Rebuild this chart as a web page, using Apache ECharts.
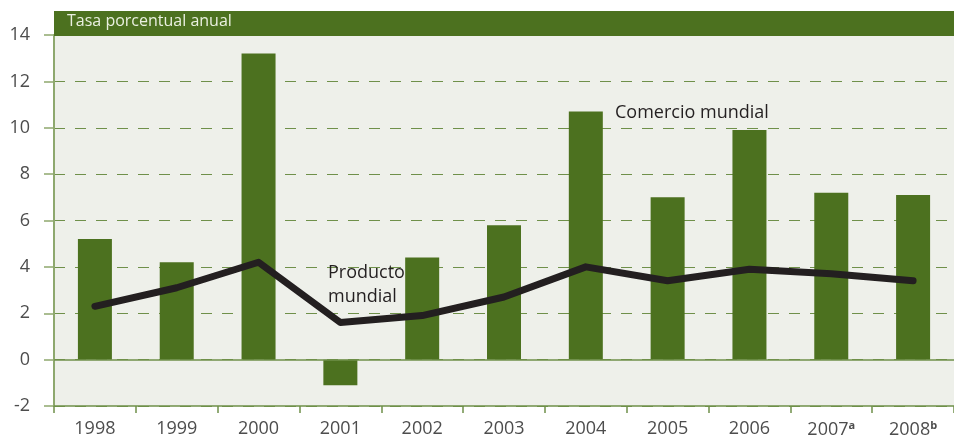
<!DOCTYPE html>
<html>
<head>
<meta charset="utf-8">
<script src="https://cdn.jsdelivr.net/npm/echarts@6/dist/echarts.min.js"></script>
<style>
  html, body { margin: 0; padding: 0; background: #ffffff; }
  #chart { width: 954px; height: 439px; }
</style>
</head>
<body>
<div id="chart"></div>
<script>
// datos
var years = ['1998', '1999', '2000', '2001', '2002', '2003', '2004', '2005', '2006', '2007', '2008'];
var yearNotes = ['', '', '', '', '', '', '', '', '', 'a', 'b'];
var comercioMundial = [5.2, 4.2, 13.2, -1.1, 4.4, 5.8, 10.7, 7.0, 9.9, 7.2, 7.1];
var productoMundial = [2.3, 3.1, 4.2, 1.6, 1.9, 2.7, 4.0, 3.4, 3.9, 3.7, 3.4];
var yTicks = [-2, 0, 2, 4, 6, 8, 10, 12, 14];

var verde = '#4c711f';
var fuente = '"Open Sans", "Noto Sans", sans-serif';

var chart = echarts.init(document.getElementById('chart'));

var option = {
    animation: false,
    textStyle: { fontFamily: fuente },
    grid: {
        left: 54,
        top: 35,
        width: 910,
        height: 371,
        show: true,
        backgroundColor: '#eef0ea',
        borderWidth: 0
    },
    graphic: [
        {
            type: 'rect',
            shape: { x: 54, y: 11, width: 900, height: 25 },
            style: { fill: verde },
            z: 10
        },
        {
            type: 'text',
            x: 67, y: 13,
            style: { text: 'Tasa porcentual anual', fill: '#eaf0e0', font: '16px ' + fuente },
            z: 11
        },
        {
            type: 'text',
            x: 615, y: 104,
            style: { text: 'Comercio mundial', fill: '#231f20', font: '18px ' + fuente },
            z: 11
        },
        {
            type: 'text',
            x: 328, y: 261,
            style: { text: 'Producto\nmundial', fill: '#231f20', font: '18px ' + fuente, lineHeight: 24 },
            z: 11
        }
    ],
    xAxis: {
        type: 'category',
        data: years,
        axisLine: { onZero: false, lineStyle: { color: '#6f904a', width: 1.5 } },
        axisTick: { show: true, length: 7, interval: 0, lineStyle: { color: '#6f904a', width: 1.5 } },
        axisLabel: {
            interval: 0,
            margin: 14,
            color: '#4d4d4d',
            formatter: function (v, i) {
                return yearNotes[i] ? '{y|' + v + '}{s|' + yearNotes[i] + '}' : '{y|' + v + '}';
            },
            rich: {
                y: { fontSize: 18, color: '#4d4d4d', fontFamily: fuente },
                s: { fontSize: 11, fontWeight: 'bold', color: '#4d4d4d', fontFamily: fuente, verticalAlign: 'top', padding: [0, 0, 8, 0] }
            }
        }
    },
    yAxis: {
        type: 'value',
        min: yTicks[0],
        max: yTicks[yTicks.length - 1],
        interval: 2,
        axisLine: { show: true, lineStyle: { color: '#8ea86e', width: 2 } },
        axisTick: { show: true, length: 10, lineStyle: { color: '#8ea86e', width: 1.5 } },
        axisLabel: { margin: 24, fontSize: 18, color: '#4d4d4d' },
        splitLine: { show: true, lineStyle: { color: '#6f904a', width: 1, type: [11, 10] } }
    },
    series: [
        {
            name: 'Comercio mundial',
            type: 'bar',
            data: comercioMundial,
            barWidth: 34,
            itemStyle: { color: verde },
            markLine: {
                silent: true,
                symbol: 'none',
                label: { show: false },
                lineStyle: { color: '#6f904a', width: 1.5, type: 'solid' },
                data: [{ yAxis: 0 }]
            }
        },
        {
            name: 'Producto mundial',
            type: 'line',
            data: productoMundial,
            showSymbol: false,
            symbol: 'none',
            lineStyle: { color: '#231f20', width: 7, cap: 'round', join: 'round' },
            z: 5
        }
    ]
};

chart.setOption(option);
</script>
</body>
</html>
